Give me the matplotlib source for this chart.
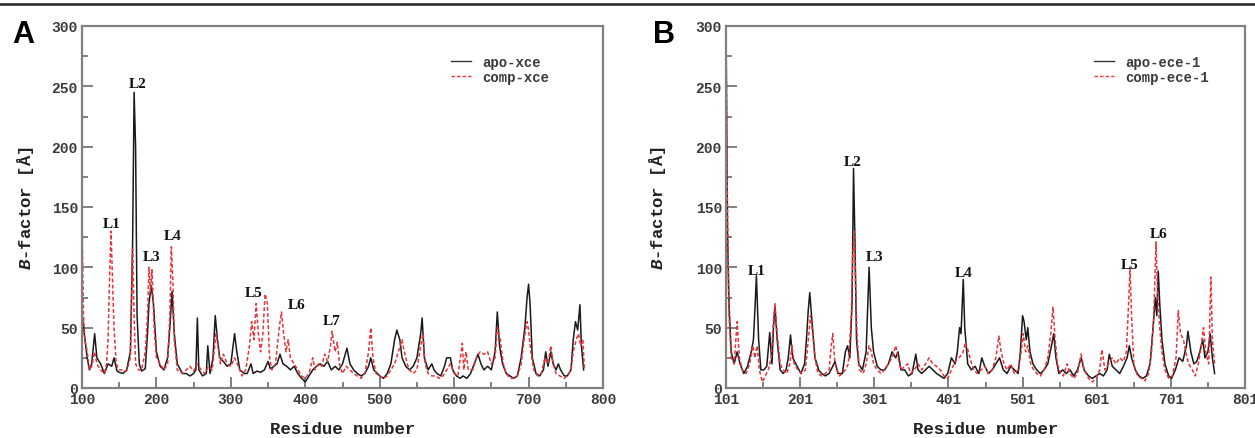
import matplotlib
matplotlib.use("Agg")
import matplotlib.pyplot as plt
from matplotlib.lines import Line2D
from matplotlib.ticker import MultipleLocator, FixedLocator

plt.rcParams["mathtext.fontset"] = "custom"
plt.rcParams["mathtext.it"] = "Liberation Mono:italic:bold"
plt.rcParams["mathtext.rm"] = "Liberation Mono:bold"

# ---------------- data (residue, B-factor) ----------------
apo_xce = [(100,62),(103,45),(107,25),(110,15),(113,20),(117,45),(120,25),(125,20),(130,12),
    (135,20),(140,18),(143,25),(147,14),(150,13),(155,12),(160,15),(165,30),(168,120),(170,245),
    (172,200),(174,60),(177,20),(180,14),(185,16),(188,45),(190,70),(193,85),(196,70),(200,30),
    (205,18),(210,15),(215,25),(218,50),(221,80),(224,45),(228,20),(235,12),(240,12),(245,10),
    (250,12),(253,15),(255,58),(257,15),(262,10),(267,12),(269,35),(272,12),(276,25),(279,60),
    (282,40),(285,25),(290,22),(295,18),(300,20),(305,45),(308,30),(312,15),(318,12),(322,12),
    (327,20),(330,12),(335,14),(340,13),(345,15),(350,22),(353,16),(358,18),(362,20),(366,28),
    (370,20),(375,18),(380,15),(385,18),(390,12),(395,8),(400,5),(405,10),(410,15),(415,18),
    (420,20),(425,18),(430,22),(435,15),(440,18),(445,15),(450,20),(456,33),(460,20),(465,15),
    (470,12),(475,10),(480,12),(485,18),(488,25),(492,15),(497,12),(500,10),(505,8),(510,12),
    (515,20),(520,40),(523,48),(527,40),(530,25),(535,18),(540,15),(545,18),(550,25),(555,45),
    (557,58),(560,25),(565,15),(570,20),(573,15),(577,12),(582,10),(587,18),(590,25),(595,25),
    (598,15),(603,10),(608,8),(612,10),(617,8),(622,12),(627,20),(632,28),(636,20),(640,15),
    (645,18),(650,15),(655,30),(658,63),(661,35),(665,20),(670,12),(675,10),(680,8),(685,10),
    (690,25),(695,50),(698,75),(700,86),(702,70),(705,25),(710,12),(715,10),(720,15),(723,30),
    (726,18),(730,30),(733,20),(737,15),(740,20),(743,15),(748,10),(752,10),(757,15),(760,40),
    (763,55),(766,48),(769,69),(771,35),(774,15)]

comp_xce = [(100,140),(102,60),(104,40),(107,30),(110,15),(113,18),(117,30),(120,20),(125,15),
    (130,12),(133,20),(135,40),(137,90),(139,130),(141,90),(143,50),(146,20),(150,15),(155,15),
    (160,14),(165,25),(168,115),(170,60),(172,20),(176,15),(180,15),(185,30),(188,60),(190,100),
    (192,80),(194,98),(197,50),(200,25),(205,20),(210,15),(215,20),(218,60),(220,117),(222,90),
    (224,40),(228,15),(235,12),(240,15),(245,18),(250,14),(255,20),(260,15),(265,12),(270,18),
    (275,15),(280,45),(283,35),(286,20),(290,28),(295,20),(300,18),(305,25),(310,18),(315,10),
    (320,15),(325,35),(328,55),(331,40),(334,70),(337,45),(340,30),(343,45),(346,78),(349,70),
    (352,25),(355,15),(360,20),(365,50),(368,63),(371,45),(374,30),(377,40),(380,25),(385,20),
    (390,15),(395,10),(400,8),(405,12),(410,25),(413,15),(418,20),(422,18),(426,28),(430,22),
    (434,35),(436,47),(440,30),(443,38),(446,20),(450,12),(455,18),(460,15),(465,12),(470,10),
    (475,8),(480,12),(485,30),(488,50),(491,25),(495,12),(500,10),(505,8),(510,10),(515,15),
    (520,20),(525,30),(530,40),(533,30),(537,20),(540,15),(545,12),(550,15),(555,35),(558,45),
    (561,20),(565,12),(570,10),(575,10),(580,8),(585,10),(590,15),(595,20),(600,12),(605,10),
    (611,37),(613,15),(616,30),(619,15),(625,15),(630,25),(635,30),(640,28),(645,30),(650,20),
    (655,25),(658,50),(662,40),(666,20),(670,12),(675,8),(680,8),(685,10),(690,20),(694,40),
    (698,55),(700,48),(703,30),(707,15),(712,10),(717,12),(722,25),(726,20),(730,35),(733,20),
    (737,12),(742,10),(748,8),(752,10),(757,15),(760,30),(764,40),(767,45),(770,35),(773,40),
    (775,15)]

apo_ece = [(101,300),(103,130),(105,70),(108,30),(112,20),(116,30),(120,20),(125,12),(130,18),
    (135,30),(138,40),(140,65),(142,93),(145,40),(148,15),(152,15),(156,18),(160,46),(163,20),
    (165,50),(167,68),(170,40),(174,15),(178,12),(182,15),(185,25),(188,44),(191,25),(197,18),
    (202,12),(207,20),(210,45),(212,65),(214,79),(217,55),(221,25),(226,15),(230,12),(235,10),
    (240,12),(245,18),(248,22),(252,12),(258,12),(262,30),(265,35),(268,25),(271,70),(273,182),
    (275,120),(277,40),(280,20),(285,15),(290,30),(294,100),(297,50),(300,30),(305,18),(310,15),
    (315,15),(320,20),(325,30),(330,25),(333,30),(337,15),(342,15),(347,10),(352,12),(357,28),
    (360,15),(365,12),(370,15),(375,18),(380,15),(385,12),(390,10),(395,8),(400,12),(405,25),
    (410,20),(413,30),(416,50),(418,45),(421,90),(423,50),(427,20),(432,15),(437,18),(442,12),
    (446,25),(450,18),(455,12),(460,15),(465,20),(470,25),(475,15),(480,12),(485,18),(490,15),
    (495,12),(498,30),(501,60),(503,55),(506,40),(508,50),(511,30),(515,20),(520,15),(525,12),
    (530,15),(535,20),(540,35),(543,45),(546,25),(550,12),(555,15),(560,12),(565,15),(570,10),
    (575,15),(580,25),(584,15),(590,10),(595,8),(600,10),(605,12),(610,10),(615,15),(618,28),
    (622,18),(627,15),(632,12),(637,18),(642,25),(645,35),(648,25),(653,15),(658,10),(663,8),
    (668,10),(673,20),(677,50),(680,75),(682,60),(684,97),(686,70),(689,40),(693,20),(698,10),
    (702,8),(707,15),(712,25),(717,22),(722,35),(724,47),(728,30),(732,20),(736,22),(740,30),
    (744,40),(747,25),(751,30),(754,45),(757,25),(760,12)]

comp_ece = [(101,300),(103,150),(105,60),(108,25),(112,20),(116,55),(119,25),(123,15),(128,12),
    (133,20),(137,35),(140,25),(143,35),(146,15),(150,5),(154,10),(158,15),(162,25),(165,55),
    (167,70),(170,45),(174,20),(178,15),(183,12),(187,20),(190,35),(193,20),(198,15),(203,12),
    (208,15),(212,40),(215,60),(218,45),(221,25),(225,12),(230,10),(235,12),(240,15),(243,35),
    (245,45),(248,20),(254,10),(258,12),(262,15),(266,20),(270,60),(272,110),(274,130),(276,80),
    (278,40),(281,15),(286,12),(290,20),(294,35),(297,30),(300,20),(305,15),(310,12),(315,15),
    (320,20),(325,25),(330,35),(333,25),(337,15),(342,18),(346,20),(350,12),(355,15),(360,20),
    (365,15),(370,20),(375,25),(380,20),(385,18),(390,15),(395,10),(400,8),(405,15),(410,22),
    (415,25),(420,28),(424,38),(427,32),(430,25),(435,15),(440,12),(445,15),(450,18),(455,12),
    (460,15),(465,25),(469,43),(472,30),(476,20),(480,15),(485,20),(490,12),(495,15),(498,25),
    (502,45),(505,30),(508,35),(512,20),(516,15),(520,12),(525,10),(530,15),(535,25),(539,45),
    (542,67),(545,40),(548,20),(552,12),(556,10),(561,20),(565,12),(570,8),(575,12),(580,28),
    (584,15),(590,8),(595,5),(600,8),(605,15),(608,32),(612,15),(617,20),(622,25),(627,20),
    (632,25),(637,22),(641,30),(644,70),(646,99),(648,60),(651,20),(656,10),(661,8),(666,6),
    (671,12),(675,30),(678,60),(681,121),(683,80),(686,50),(689,30),(693,15),(698,8),(703,10),
    (708,25),(711,64),(714,45),(718,40),(721,30),(725,20),(730,15),(734,10),(738,20),(742,35),
    (745,50),(748,30),(752,20),(755,92),(757,40),(760,20)]

labels_a = ["L1", "L2", "L3", "L4", "L5", "L6", "L7"]
label_pos_a = [(140,136), (175,252), (194,109), (222,126), (331,79), (388,69), (436,56)]
labels_b = ["L1", "L2", "L3", "L4", "L5", "L6"]
label_pos_b = [(143,97), (272,188), (301,109), (422,96), (645,102), (684,128)]

xticks_a = [100, 200, 300, 400, 500, 600, 700, 800]
xticks_b = [101, 201, 301, 401, 501, 601, 701, 801]
yticks = [0, 50, 100, 150, 200, 250, 300]

# ---------------- figure ----------------
W, H = 1255, 439
fig = plt.figure(figsize=(W/100, H/100), dpi=100)

mono = "Liberation Mono"
serif = "Liberation Serif"
spine_col = "#808080"
tick_col = "#3a3a3a"

def make_axes(l, r, t=27, b=389):
    return fig.add_axes([l/W, 1-b/H, (r-l)/W, (b-t)/H])

axA = make_axes(82, 603)
axB = make_axes(726, 1245)

def style(ax, xticks, xlo, xhi, ylab_x):
    ax.set_xlim(xlo, xhi)
    ax.set_ylim(0, 300)
    ax.set_xticks(xticks)
    ax.xaxis.set_minor_locator(FixedLocator([x + 50 for x in xticks[:-1]]))
    ax.set_yticks(yticks)
    ax.yaxis.set_minor_locator(MultipleLocator(25))
    for s in ax.spines.values():
        s.set_color(spine_col)
        s.set_linewidth(1.6)
    ax.tick_params(which="both", direction="in", top=False, right=False,
                   color=spine_col, width=1.4, labelcolor=tick_col)
    ax.tick_params(which="major", length=8, pad=3)
    ax.tick_params(which="minor", length=4)
    for lab in ax.get_xticklabels() + ax.get_yticklabels():
        lab.set_fontfamily(mono)
        lab.set_fontweight("bold")
        lab.set_fontsize(10.5)
    ax.set_xlabel("Residue number", fontfamily=mono, fontweight="bold",
                  fontsize=12.5, color="#222222")
    ax.xaxis.set_label_coords(0.5, -0.09)
    ax.set_ylabel(r"$\it{B}$-factor [Å]", fontfamily=mono, fontweight="bold",
                  fontsize=12.5, color="#222222")
    ax.yaxis.set_label_coords(ylab_x, 0.5)

def draw(ax, apo, comp, apo_name, comp_name, labels, pos, lx, ly):
    ax.plot([p[0] for p in apo], [p[1] for p in apo], color="#1a1a1a", lw=1.1)
    ax.plot([p[0] for p in comp], [p[1] for p in comp], color="#e8333a", lw=1.1,
            dashes=(2.5, 1.5))
    for t, (x, y) in zip(labels, pos):
        ax.text(x, y, t, fontfamily=serif, fontweight="bold", fontsize=11,
                ha="center", va="center", color="#111111")
    handles = [Line2D([0], [0], color="#333333", lw=1.0),
               Line2D([0], [0], color="#e8333a", lw=1.0, dashes=(2.5, 1.5))]
    leg = ax.legend(handles, [apo_name, comp_name], loc="upper left",
                    bbox_to_anchor=(lx, ly), frameon=False, handlelength=1.45,
                    handletextpad=0.8, labelspacing=0.1, borderaxespad=0,
                    prop={"family": mono, "weight": "bold", "size": 10})
    for t in leg.get_texts():
        t.set_color("#3a3a3a")

style(axA, xticks_a, 100, 800, -0.088)
style(axB, xticks_b, 101, 801, -0.112)
draw(axA, apo_xce, comp_xce, "apo-xce", "comp-xce", labels_a, label_pos_a,
     (445.5-82)/521, 1-(50-27)/362)
draw(axB, apo_ece, comp_ece, "apo-ece-1", "comp-ece-1", labels_b, label_pos_b,
     (1088.5-726)/519, 1-(50-27)/362)

fig.text(12/W, 1-35/H, "A", fontfamily="Liberation Sans", fontweight="bold",
         fontsize=22, va="center", ha="left")
fig.text(653/W, 1-35/H, "B", fontfamily="Liberation Sans", fontweight="bold",
         fontsize=22, va="center", ha="left")

fig.add_artist(Line2D([0, 1], [1-5/H, 1-5/H], color="#222222", lw=1.8,
                      transform=fig.transFigure))

fig.savefig("out.png", dpi=100)
